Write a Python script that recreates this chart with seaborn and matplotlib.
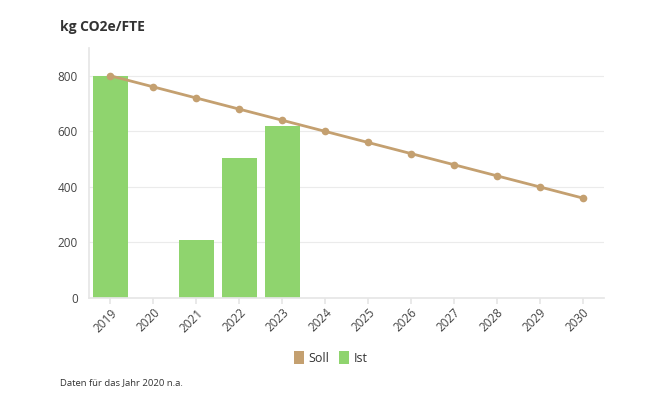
import matplotlib
matplotlib.use("Agg")
import matplotlib.pyplot as plt
import seaborn as sns
import numpy as np
import pandas as pd
from matplotlib.patches import Patch

years = ["2019", "2020", "2021", "2022", "2023", "2024", "2025", "2026", "2027", "2028", "2029", "2030"]
soll = [800, 760, 720, 680, 640, 600, 560, 520, 480, 440, 400, 360]
ist = [800, np.nan, 208, 503, 621, np.nan, np.nan, np.nan, np.nan, np.nan, np.nan, np.nan]
yticks = [0, 200, 400, 600, 800]

title = "kg CO2e/FTE"
footnote = "Daten für das Jahr 2020 n.a."
soll_color = "#c4a070"
ist_color = "#8fd46e"

sns.set_theme(style="white")
plt.rcParams["font.family"] = ["Open Sans", "DejaVu Sans"]

df = pd.DataFrame({"year": years, "soll": soll, "ist": ist})

fig = plt.figure(figsize=(6.5, 3.98), dpi=100)
ax = fig.add_axes([89/650, 1-298/398, (604-89)/650, (298-48)/398])

sns.barplot(data=df, x="year", y="ist", order=years, color=ist_color, width=0.82,
            errorbar=None, ax=ax, saturation=1, linewidth=0, edgecolor="none", zorder=2)
sns.pointplot(data=df, x="year", y="soll", order=years, color=soll_color,
              markersize=4, linewidth=2, ax=ax, errorbar=None, zorder=3)

ax.set_xlim(-0.5, 11.5)
ax.set_ylim(0, 900)
ax.set_yticks(yticks)
ax.set_xlabel("")
ax.set_ylabel("")
ax.grid(axis="y", color="#ebebeb", linewidth=0.8, zorder=0)
ax.set_axisbelow(True)
for s in ["top", "right"]:
    ax.spines[s].set_visible(False)
ax.spines["left"].set_color("#e6e6e6")
ax.spines["bottom"].set_color("#e6e6e6")
ax.tick_params(axis="x", length=4, color="#e6e6e6", bottom=True, labelsize=8.5, labelcolor="#444444", pad=2)
ax.tick_params(axis="y", length=0, labelsize=8.5, labelcolor="#444444", pad=8)
plt.setp(ax.get_xticklabels(), rotation=45, ha="right", rotation_mode="anchor")

fig.text(60/650, 1-27/398, title, fontsize=10, fontweight="bold", color="#333333", va="center")
fig.text(60/650, 1-383/398, footnote, fontsize=6.8, color="#333333", va="center")

handles = [Patch(facecolor=soll_color, edgecolor="none", label="Soll"),
           Patch(facecolor=ist_color, edgecolor="none", label="Ist")]
fig.legend(handles=handles, loc="center", bbox_to_anchor=(331/650, 1-358/398), ncol=2,
           frameon=False, fontsize=9, handlelength=0.75, handleheight=1.2,
           handletextpad=0.4, columnspacing=0.8, labelcolor="#333333")

fig.savefig("out.png", dpi=100)
